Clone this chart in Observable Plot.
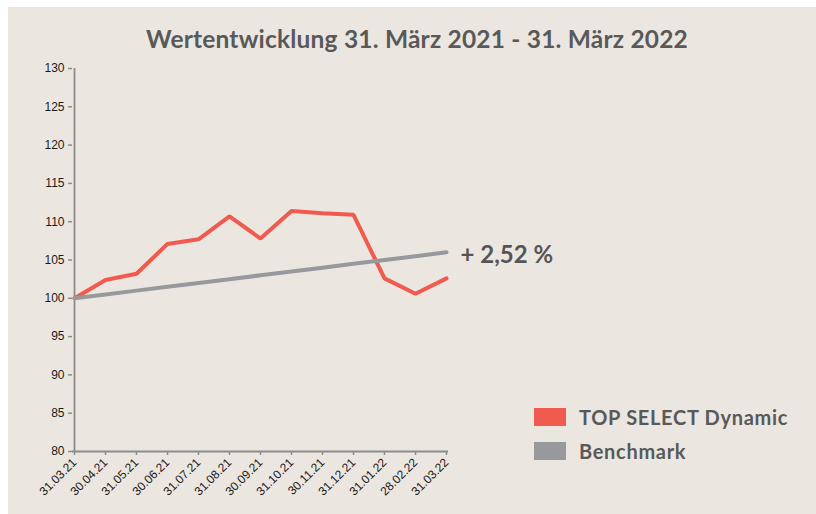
<!DOCTYPE html>
<html><head><meta charset="utf-8">
<script src="https://cdn.jsdelivr.net/npm/d3@7"></script>
<script src="https://cdn.jsdelivr.net/npm/@observablehq/plot@0.6"></script>
<style>
html,body{margin:0;padding:0;background:#fff;width:816px;height:514px;overflow:hidden;}
#frame{position:absolute;left:8px;top:7px;width:830px;height:530px;background:#ebe7e0;overflow:hidden;}
#title{position:absolute;left:5px;width:808px;top:17px;text-align:center;font-family:Lato,sans-serif;font-weight:700;font-size:24.5px;letter-spacing:0.2px;color:#595959;}
#chart{position:absolute;left:0;top:0;}
.leg{position:absolute;left:526px;font-family:Lato,sans-serif;font-weight:700;font-size:20px;letter-spacing:0.7px;color:#595959;display:flex;align-items:center;}
.sw{width:32px;height:18px;margin-right:13px;}
</style></head><body>
<div id="frame">
<div id="chart"></div>
<div id="title">Wertentwicklung 31. März 2021 - 31. März 2022</div>
<div class="leg" style="top:398px"><div class="sw" style="background:#f05a4f"></div>TOP SELECT Dynamic</div>
<div class="leg" style="top:432px"><div class="sw" style="background:#98999d"></div>Benchmark</div>
</div>
<script>
const dates = ["31.03.21","30.04.21","31.05.21","30.06.21","31.07.21","31.08.21","30.09.21","31.10.21","30.11.21","31.12.21","31.01.22","28.02.22","31.03.22"];
const fund = [100, 102.4, 103.2, 107.1, 107.7, 110.7, 107.8, 111.4, 111.1, 110.9, 102.6, 100.6, 102.6];
const benchmark = [100, 100.5, 101.0, 101.5, 102.0, 102.5, 103.0, 103.5, 104.0, 104.5, 105.0, 105.5, 106.0];
const yTicks = [80, 85, 90, 95, 100, 105, 110, 115, 120, 125, 130];
const endLabel = "+ 2,52 %";

const fundData = dates.map((d, i) => ({date: d, value: fund[i]}));
const benchData = dates.map((d, i) => ({date: d, value: benchmark[i]}));

const axisColor = "#8c8c8c";
const chart = Plot.plot({
  width: 808, height: 507,
  marginLeft: 64, marginRight: 368, marginTop: 61, marginBottom: 63,
  style: {background: "transparent", fontFamily: "'Liberation Sans', sans-serif", fontSize: "11px", color: "#1a1a1a", overflow: "visible"},
  x: {type: "point", domain: dates, padding: 0, label: null},
  y: {domain: [80, 130], label: null},
  marks: [
    Plot.axisX({ticks: dates, tickRotate: -45, tickSize: 4, stroke: axisColor, strokeWidth: 1.5, fill: "#1a1a1a", fontSize: 12, tickPadding: 5}),
    Plot.axisY({ticks: yTicks, tickSize: 4, stroke: axisColor, strokeWidth: 1.5, fill: "#1a1a1a", fontSize: 12, tickPadding: 4}),
    Plot.ruleX([dates[0]], {stroke: axisColor, strokeWidth: 1.8}),
    Plot.ruleY([80], {stroke: axisColor, strokeWidth: 1.8}),
    Plot.line(fundData, {x: "date", y: "value", stroke: "#f05a4f", strokeWidth: 4, strokeLinejoin: "miter"}),
    Plot.line(benchData, {x: "date", y: "value", stroke: "#98999d", strokeWidth: 4}),
    Plot.text([benchData[benchData.length - 1]], {x: "date", y: "value", text: () => endLabel, dx: 14, dy: 3, textAnchor: "start", fontSize: 24, fontWeight: "bold", fill: "#555555", fontFamily: "Lato, sans-serif", style: "letter-spacing:2.4px"})
  ]
});
document.getElementById("chart").appendChild(chart);
</script>
</body></html>
